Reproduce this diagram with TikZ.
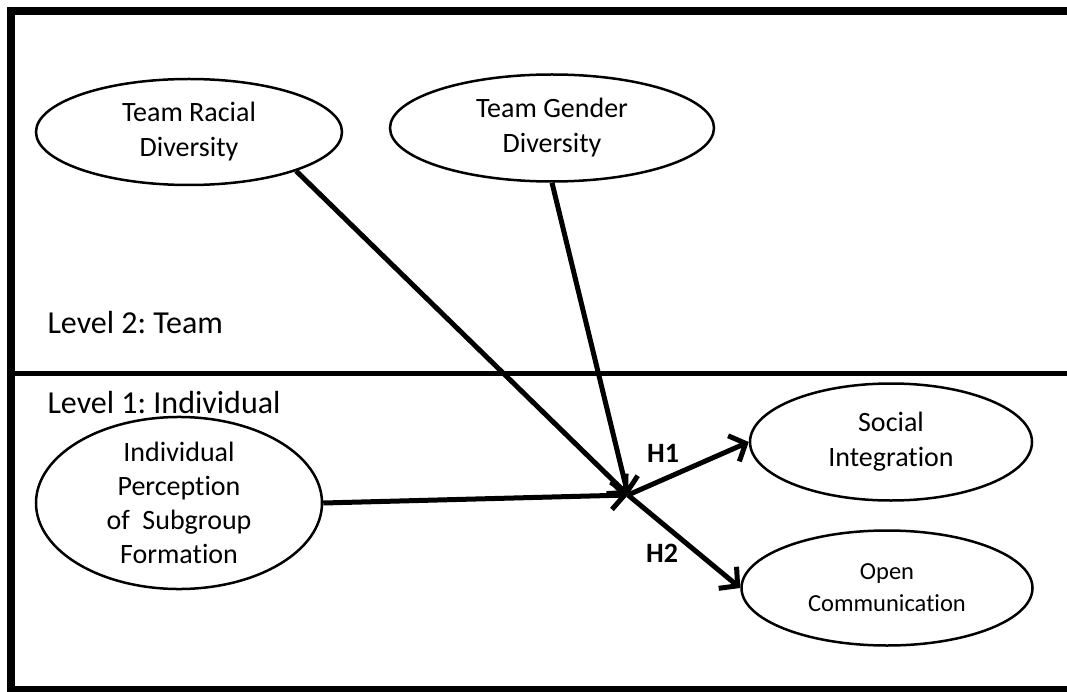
\documentclass[tikz,border=0pt]{standalone}
\usepackage{fontspec}
\setmainfont{Carlito}[Ligatures=NoCommon]
\frenchspacing
\usetikzlibrary{shapes.geometric,arrows.meta,positioning}

\begin{document}
\begin{tikzpicture}[x=1pt,y=-1pt,>={Straight Barb[length=13pt,width=28pt]},
    var/.style={draw,ellipse,line width=2.5pt,inner sep=0pt,align=center,font=\fontsize{28}{35}\selectfont},
    lbl/.style={anchor=west,font=\fontsize{32}{36}\selectfont},
    link/.style={line width=5pt,->},
    hyp/.style={font=\fontsize{28}{32}\selectfont\bfseries}]

    \clip (0,0) rectangle (1067,692);
    % frame and level divider
    \draw[line width=8pt] (1080,11) -- (11,11) -- (11,690) -- (1080,690);
    \draw[line width=5pt] (11,373) -- (1080,373);

    \node[var,minimum width=306pt,minimum height=106pt] (rac) at (189,132) {Team Racial\\Diversity};
    \node[var,minimum width=324pt,minimum height=107pt] (gen) at (552,128) {Team Gender\\Diversity};
    \node[var,minimum width=286pt,minimum height=141pt,font=\fontsize{28}{34}\selectfont] (ind) at (179,503) {Individual\\Perception\\of~ Subgroup\\Formation};
    \node[var,minimum width=282pt,minimum height=117pt] (soc) at (891,442) {Social\\Integration};
    \node[var,minimum width=291pt,minimum height=115pt,font=\fontsize{24.5}{32}\selectfont] (opc) at (887,588) {Open\\Communication};

    \node[lbl] (lvtwo) at (44,323) {Level 2: Team};
    \node[lbl] (lvone) at (44,403) {Level 1: Individual};

    % paths into and out of the cross-level point
    \coordinate (jn) at (628,495);
    \draw[link] (rac.-20) -- (jn);
    \draw[link] (gen.south) -- (jn);
    \draw[link] (ind.east) -- (jn);
    \draw[link] (jn) -- (soc.west);
    \draw[link] (jn) -- (opc.west);

    \node[hyp] (hone) at (663,453) {H1};
    \node[hyp] (htwo) at (662,553) {H2};

\end{tikzpicture}
\end{document}
